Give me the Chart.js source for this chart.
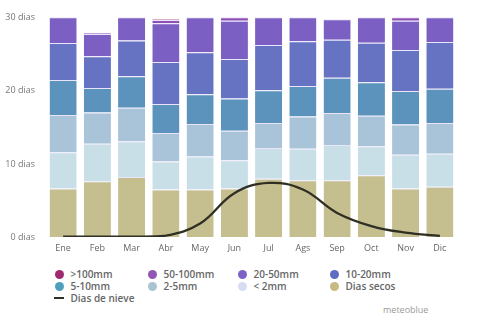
<!DOCTYPE html>
<html>
<head>
<meta charset="utf-8">
<script src="https://cdn.jsdelivr.net/npm/chart.js@4"></script>
<style>
  html, body { margin:0; padding:0; background:#fff; }
  body { width:477px; height:316px; position:relative; overflow:hidden; font-family:"Open Sans", sans-serif; }
  #wrap { position:absolute; left:0; top:0; width:477px; height:259px; }
  .lg { position:absolute; font-size:10px; color:#666; font-weight:600; line-height:12px; white-space:nowrap; }
  .dot { position:absolute; width:9px; height:9px; border-radius:50%; }
  .ln { position:absolute; width:10px; height:2px; background:#2f2f24; }
  #brand { position:absolute; left:383px; top:303px; font-size:9px; color:#9a9a9a; }
</style>
</head>
<body>
<div id="wrap"><canvas id="c" width="477" height="259"></canvas></div>
<div id="legend"></div>
<div id="brand">meteoblue</div>
<script>
const months = ["Ene","Feb","Mar","Abr","May","Jun","Jul","Ags","Sep","Oct","Nov","Dic"];
const yTicks = [0, 10, 20, 30];
const diasSecos = [6.65, 7.64, 8.23, 6.5, 6.5, 6.65, 7.96, 7.78, 7.78, 8.46, 6.65, 6.87];
const menos2mm  = [4.95, 5.11, 4.87, 3.85, 4.53, 3.85, 4.21, 4.3, 4.82, 3.98, 4.61, 4.53];
const mm2a5     = [5.1, 4.3, 4.6, 3.9, 4.44, 4.06, 3.43, 4.42, 4.36, 4.16, 4.14, 4.2];
const mm5a10    = [4.8, 3.35, 4.3, 3.95, 4.07, 4.39, 4.48, 4.17, 4.84, 4.6, 4.6, 4.7];
const mm10a20   = [5.05, 4.35, 4.9, 5.77, 5.74, 5.43, 6.22, 6.13, 5.2, 5.4, 5.6, 6.4];
const mm20a50   = [3.55, 3.05, 3.2, 5.29, 4.82, 5.22, 3.8, 3.3, 2.8, 3.5, 4.0, 3.4];
const mm50a100  = [0, 0.15, 0, 0.45, 0, 0.5, 0, 0, 0, 0, 0.5, 0];
const mas100mm  = [0, 0, 0, 0.1, 0, 0, 0, 0, 0, 0, 0, 0];
const diasNieve = [0.05, 0.05, 0.05, 0.18, 1.85, 6.0, 7.4, 6.5, 3.3, 1.5, 0.6, 0.15];

const sep = 'rgba(232,226,250,0.9)';
function bar(label, data, color) {
  return { type:'bar', label, data, backgroundColor:color, borderColor:sep,
    borderWidth:{top:1, right:0, bottom:0, left:0}, borderSkipped:false,
    stack:'lluvia', categoryPercentage:0.8, barPercentage:0.99, order:2 };
}
const datasets = [
  bar('Dias secos', diasSecos, '#c5bf8f'),
  bar('< 2mm', menos2mm, '#c9dfe8'),
  bar('2-5mm', mm2a5, '#a9c3d9'),
  bar('5-10mm', mm5a10, '#5b93bd'),
  bar('10-20mm', mm10a20, '#6673c3'),
  bar('20-50mm', mm20a50, '#7c5fc3'),
  bar('50-100mm', mm50a100, '#8d50b4'),
  bar('>100mm', mas100mm, '#a0306f'),
  { type:'line', label:'Dias de nieve', data:diasNieve, borderColor:'#2f2f24', borderWidth:2.3,
    pointRadius:0, tension:0.4, fill:false, stack:'nieve', order:0 }
];

new Chart(document.getElementById('c'), {
  type:'bar',
  data:{ labels:months, datasets },
  options:{
    responsive:false, animation:false,
    layout:{ padding:{ top:14.5, right:20, left:0, bottom:0 } },
    plugins:{ legend:{display:false}, tooltip:{enabled:false} },
    scales:{
      x:{ stacked:true, grid:{display:false, drawTicks:false}, border:{display:false},
          ticks:{ padding:6, color:'#666', font:{family:'Open Sans', size:9} },
          afterFit:s=>{ s.height = 22; } },
      y:{ stacked:true, min:0, max:30.2, grid:{display:false, drawTicks:false}, border:{display:false},
          afterBuildTicks:s=>{ s.ticks = yTicks.map(v=>({value:v})); },
          ticks:{ padding:11, color:'#777', font:{family:'Open Sans', size:9}, callback:v=>v+' dias' },
          afterFit:s=>{ s.width = 46; } }
    }
  }
});

const legendItems = [
  ['>100mm','#a02a6e'],['50-100mm','#9257b4'],['20-50mm','#7c62c4'],['10-20mm','#5d6cc2'],
  ['5-10mm','#4ea0ba'],['2-5mm','#a9c4d2'],['< 2mm','#d6dcf2'],['Dias secos','#c9b983']
];
const colX = [59, 152, 242, 334];
const rowY = [274, 286, 298];
const lg = document.getElementById('legend');
legendItems.forEach((it, i) => {
  const cx = colX[i % 4], cy = rowY[Math.floor(i / 4)];
  const d = document.createElement('div'); d.className = 'dot';
  d.style.left = (cx - 4.5) + 'px'; d.style.top = (cy - 4.5) + 'px'; d.style.background = it[1];
  lg.appendChild(d);
  const t = document.createElement('div'); t.className = 'lg'; t.textContent = it[0];
  t.style.left = (cx + 11.5) + 'px'; t.style.top = (cy - 6.5) + 'px';
  lg.appendChild(t);
});
const l = document.createElement('div'); l.className = 'ln';
l.style.left = '54px'; l.style.top = (rowY[2] - 1) + 'px'; lg.appendChild(l);
const t = document.createElement('div'); t.className = 'lg'; t.textContent = 'Dias de nieve';
t.style.left = '70.5px'; t.style.top = (rowY[2] - 6.5) + 'px'; lg.appendChild(t);
</script>
</body>
</html>
